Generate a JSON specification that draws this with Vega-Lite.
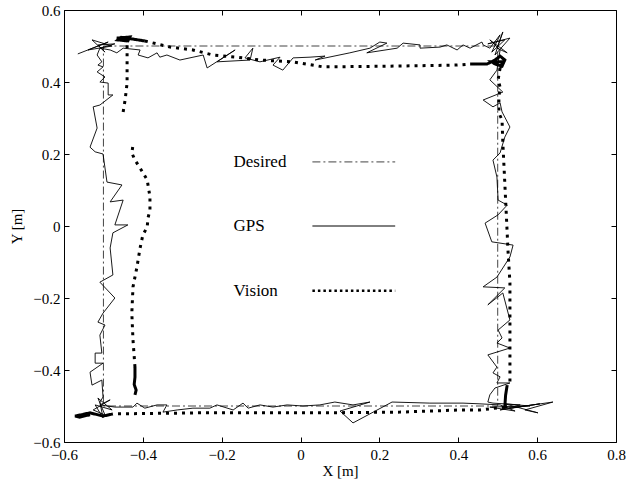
{
  "$schema": "https://vega.github.io/schema/vega-lite/v6.json",
  "width": 552,
  "height": 432,
  "autosize": {"type": "none"},
  "padding": {"left": 64, "top": 10, "right": 10, "bottom": 39},
  "background": "white",
  "config": {
    "font": "Liberation Serif",
    "view": {"stroke": "black", "strokeWidth": 1},
    "axis": {"grid": false, "domain": false, "tickColor": "black", "tickSize": -5, "labelColor": "black", "labelFont": "Liberation Serif", "labelFontSize": 15, "titleFont": "Liberation Serif", "titleFontSize": 15, "titleFontWeight": "normal", "titleColor": "black", "labelFlush": false, "labelOverlap": false}
  },
  "datasets": {
    "desired": [
      {"i": 1, "x": -0.5, "y": 0.5}, {"i": 2, "x": 0.5, "y": 0.5}, {"i": 3, "x": 0.5, "y": -0.5}, {"i": 4, "x": -0.5, "y": -0.5}, {"i": 5, "x": -0.5, "y": 0.5}
    ],
    "gps": [
      {"i":1,"x":-0.565,"y":0.478},{"i":2,"x":-0.488,"y":0.511},{"i":3,"x":-0.539,"y":0.489},{"i":4,"x":-0.478,"y":0.5},{"i":5,"x":-0.529,"y":0.517},{"i":6,"x":-0.496,"y":0.483},{"i":7,"x":-0.514,"y":0.503},{"i":8,"x":-0.471,"y":0.506},{"i":9,"x":-0.509,"y":0.494},{"i":10,"x":-0.483,"y":0.489},
      {"i":11,"x":-0.466,"y":0.481},{"i":12,"x":-0.45,"y":0.494},{"i":13,"x":-0.407,"y":0.489},{"i":14,"x":-0.412,"y":0.475},{"i":15,"x":-0.387,"y":0.467},{"i":16,"x":-0.364,"y":0.481},{"i":17,"x":-0.357,"y":0.469},{"i":18,"x":-0.339,"y":0.475},{"i":19,"x":-0.306,"y":0.461},{"i":20,"x":-0.247,"y":0.475},
      {"i":21,"x":-0.237,"y":0.439},{"i":22,"x":-0.166,"y":0.489},{"i":23,"x":-0.212,"y":0.456},{"i":24,"x":-0.128,"y":0.461},{"i":25,"x":-0.121,"y":0.494},{"i":26,"x":-0.141,"y":0.467},{"i":27,"x":-0.103,"y":0.456},{"i":28,"x":-0.052,"y":0.469},{"i":29,"x":-0.07,"y":0.447},{"i":30,"x":-0.045,"y":0.433},
      {"i":31,"x":-0.019,"y":0.467},{"i":32,"x":0.024,"y":0.469},{"i":33,"x":0.062,"y":0.472},{"i":34,"x":0.037,"y":0.461},{"i":35,"x":0.125,"y":0.481},{"i":36,"x":0.176,"y":0.494},{"i":37,"x":0.201,"y":0.511},{"i":38,"x":0.219,"y":0.508},{"i":39,"x":0.168,"y":0.481},{"i":40,"x":0.245,"y":0.494},
      {"i":41,"x":0.26,"y":0.508},{"i":42,"x":0.303,"y":0.503},{"i":43,"x":0.303,"y":0.494},{"i":44,"x":0.354,"y":0.497},{"i":45,"x":0.371,"y":0.503},{"i":46,"x":0.397,"y":0.489},{"i":47,"x":0.412,"y":0.503},{"i":48,"x":0.43,"y":0.494},{"i":49,"x":0.46,"y":0.511},{"i":50,"x":0.463,"y":0.503},
      {"i":51,"x":0.48,"y":0.494},{"i":52,"x":0.506,"y":0.531},{"i":53,"x":0.485,"y":0.483},{"i":54,"x":0.518,"y":0.517},{"i":55,"x":0.475,"y":0.506},{"i":56,"x":0.531,"y":0.522},{"i":57,"x":0.493,"y":0.475},{"i":58,"x":0.513,"y":0.539},{"i":59,"x":0.498,"y":0.494},{"i":60,"x":0.524,"y":0.481},
      {"i":61,"x":0.48,"y":0.517},{"i":62,"x":0.506,"y":0.489},{"i":63,"x":0.498,"y":0.433},{"i":64,"x":0.48,"y":0.406},{"i":65,"x":0.513,"y":0.372},{"i":66,"x":0.463,"y":0.35},{"i":67,"x":0.488,"y":0.331},{"i":68,"x":0.506,"y":0.342},{"i":69,"x":0.511,"y":0.317},{"i":70,"x":0.531,"y":0.275},
      {"i":71,"x":0.518,"y":0.247},{"i":72,"x":0.506,"y":0.203},{"i":73,"x":0.488,"y":0.183},{"i":74,"x":0.498,"y":0.136},{"i":75,"x":0.501,"y":0.072},{"i":76,"x":0.524,"y":0.058},{"i":77,"x":0.501,"y":0.031},{"i":78,"x":0.468,"y":0.008},{"i":79,"x":0.485,"y":-0.044},{"i":80,"x":0.539,"y":-0.053},
      {"i":81,"x":0.531,"y":-0.086},{"i":82,"x":0.498,"y":-0.142},{"i":83,"x":0.463,"y":-0.169},{"i":84,"x":0.518,"y":-0.172},{"i":85,"x":0.475,"y":-0.219},{"i":86,"x":0.513,"y":-0.186},{"i":87,"x":0.531,"y":-0.261},{"i":88,"x":0.501,"y":-0.289},{"i":89,"x":0.511,"y":-0.311},{"i":90,"x":0.498,"y":-0.325},
      {"i":91,"x":0.531,"y":-0.339},{"i":92,"x":0.475,"y":-0.358},{"i":93,"x":0.498,"y":-0.392},{"i":94,"x":0.488,"y":-0.408},{"i":95,"x":0.506,"y":-0.419},{"i":96,"x":0.498,"y":-0.436},{"i":97,"x":0.531,"y":-0.436},{"i":98,"x":0.493,"y":-0.45},{"i":99,"x":0.48,"y":-0.469},{"i":100,"x":0.475,"y":-0.489},
      {"i":101,"x":0.488,"y":-0.492},{"i":102,"x":0.557,"y":-0.497},{"i":103,"x":0.506,"y":-0.511},{"i":104,"x":0.607,"y":-0.494},{"i":105,"x":0.531,"y":-0.506},{"i":106,"x":0.64,"y":-0.489},{"i":107,"x":0.569,"y":-0.511},{"i":108,"x":0.602,"y":-0.519},{"i":109,"x":0.518,"y":-0.494},{"i":110,"x":0.582,"y":-0.5},
      {"i":111,"x":0.48,"y":-0.503},{"i":112,"x":0.544,"y":-0.514},{"i":113,"x":0.506,"y":-0.497},{"i":114,"x":0.455,"y":-0.494},{"i":115,"x":0.412,"y":-0.492},{"i":116,"x":0.328,"y":-0.492},{"i":117,"x":0.232,"y":-0.489},{"i":118,"x":0.133,"y":-0.547},{"i":119,"x":0.1,"y":-0.514},{"i":120,"x":0.176,"y":-0.489},
      {"i":121,"x":0.133,"y":-0.497},{"i":122,"x":0.087,"y":-0.489},{"i":123,"x":0.049,"y":-0.497},{"i":124,"x":0.006,"y":-0.5},{"i":125,"x":-0.034,"y":-0.497},{"i":126,"x":-0.07,"y":-0.503},{"i":127,"x":-0.103,"y":-0.497},{"i":128,"x":-0.133,"y":-0.506},{"i":129,"x":-0.146,"y":-0.492},{"i":130,"x":-0.171,"y":-0.511},
      {"i":131,"x":-0.212,"y":-0.497},{"i":132,"x":-0.23,"y":-0.506},{"i":133,"x":-0.273,"y":-0.506},{"i":134,"x":-0.313,"y":-0.511},{"i":135,"x":-0.349,"y":-0.517},{"i":136,"x":-0.339,"y":-0.497},{"i":137,"x":-0.364,"y":-0.497},{"i":138,"x":-0.395,"y":-0.506},{"i":139,"x":-0.415,"y":-0.492},{"i":140,"x":-0.425,"y":-0.503},
      {"i":141,"x":-0.471,"y":-0.503},{"i":142,"x":-0.509,"y":-0.497},{"i":143,"x":-0.483,"y":-0.483},{"i":144,"x":-0.526,"y":-0.511},{"i":145,"x":-0.496,"y":-0.525},{"i":146,"x":-0.514,"y":-0.478},{"i":147,"x":-0.478,"y":-0.511},{"i":148,"x":-0.521,"y":-0.497},{"i":149,"x":-0.501,"y":-0.533},{"i":150,"x":-0.509,"y":-0.489},
      {"i":151,"x":-0.501,"y":-0.475},{"i":152,"x":-0.504,"y":-0.428},{"i":153,"x":-0.529,"y":-0.442},{"i":154,"x":-0.534,"y":-0.406},{"i":155,"x":-0.501,"y":-0.381},{"i":156,"x":-0.521,"y":-0.381},{"i":157,"x":-0.521,"y":-0.353},{"i":158,"x":-0.504,"y":-0.353},{"i":159,"x":-0.509,"y":-0.303},{"i":160,"x":-0.496,"y":-0.275},
      {"i":161,"x":-0.514,"y":-0.267},{"i":162,"x":-0.501,"y":-0.242},{"i":163,"x":-0.471,"y":-0.2},{"i":164,"x":-0.509,"y":-0.156},{"i":165,"x":-0.476,"y":-0.136},{"i":166,"x":-0.483,"y":-0.061},{"i":167,"x":-0.476,"y":-0.019},{"i":168,"x":-0.438,"y":0.003},{"i":169,"x":-0.471,"y":0.003},{"i":170,"x":-0.45,"y":0.072},
      {"i":171,"x":-0.483,"y":0.067},{"i":172,"x":-0.453,"y":0.114},{"i":173,"x":-0.491,"y":0.122},{"i":174,"x":-0.501,"y":0.2},{"i":175,"x":-0.521,"y":0.206},{"i":176,"x":-0.534,"y":0.219},{"i":177,"x":-0.516,"y":0.272},{"i":178,"x":-0.526,"y":0.331},{"i":179,"x":-0.509,"y":0.336},{"i":180,"x":-0.476,"y":0.364},
      {"i":181,"x":-0.488,"y":0.364},{"i":182,"x":-0.488,"y":0.397},{"i":183,"x":-0.509,"y":0.4},{"i":184,"x":-0.496,"y":0.414},{"i":185,"x":-0.516,"y":0.428},{"i":186,"x":-0.501,"y":0.442},{"i":187,"x":-0.514,"y":0.447},{"i":188,"x":-0.504,"y":0.456},{"i":189,"x":-0.516,"y":0.475},{"i":190,"x":-0.509,"y":0.494}
    ],
    "vision": [
      {"s":"A1","st":"solid","i":1,"x":-0.42,"y":-0.469},{"s":"A1","st":"solid","i":2,"x":-0.417,"y":-0.456},{"s":"A1","st":"solid","i":3,"x":-0.422,"y":-0.44},{"s":"A1","st":"solid","i":4,"x":-0.42,"y":-0.42},{"s":"A1","st":"solid","i":5,"x":-0.42,"y":-0.392},
      {"s":"A2","st":"dot","i":6,"x":-0.42,"y":-0.392},{"s":"A2","st":"dot","i":7,"x":-0.425,"y":-0.317},{"s":"A2","st":"dot","i":8,"x":-0.428,"y":-0.242},{"s":"A2","st":"dot","i":9,"x":-0.425,"y":-0.169},{"s":"A2","st":"dot","i":10,"x":-0.415,"y":-0.114},{"s":"A2","st":"dot","i":11,"x":-0.407,"y":-0.061},{"s":"A2","st":"dot","i":12,"x":-0.4,"y":-0.025},{"s":"A2","st":"dot","i":13,"x":-0.389,"y":-0.003},{"s":"A2","st":"dot","i":14,"x":-0.387,"y":0.022},{"s":"A2","st":"dot","i":15,"x":-0.382,"y":0.044},{"s":"A2","st":"dot","i":16,"x":-0.382,"y":0.081},{"s":"A2","st":"dot","i":17,"x":-0.389,"y":0.128},{"s":"A2","st":"dot","i":18,"x":-0.407,"y":0.161},{"s":"A2","st":"dot","i":19,"x":-0.42,"y":0.183},{"s":"A2","st":"dot","i":20,"x":-0.428,"y":0.203},{"s":"A2","st":"dot","i":21,"x":-0.425,"y":0.225},
      {"s":"B1","st":"dot","i":22,"x":-0.45,"y":0.317},{"s":"B1","st":"dot","i":23,"x":-0.445,"y":0.35},{"s":"B1","st":"dot","i":24,"x":-0.44,"y":0.397},{"s":"B1","st":"dot","i":25,"x":-0.44,"y":0.442},{"s":"B1","st":"dot","i":26,"x":-0.44,"y":0.489},{"s":"B1","st":"dot","i":27,"x":-0.44,"y":0.514},
      {"s":"B2","st":"solid","i":28,"x":-0.44,"y":0.514},{"s":"B2","st":"solid","i":29,"x":-0.466,"y":0.522},{"s":"B2","st":"solid","i":30,"x":-0.433,"y":0.525},{"s":"B2","st":"solid","i":31,"x":-0.438,"y":0.514},{"s":"B2","st":"solid","i":32,"x":-0.463,"y":0.517},{"s":"B2","st":"solid","i":33,"x":-0.455,"y":0.524},{"s":"B2","st":"solid","i":34,"x":-0.43,"y":0.52},{"s":"B2","st":"solid","i":35,"x":-0.395,"y":0.514},
      {"s":"B3","st":"dot","i":36,"x":-0.395,"y":0.514},{"s":"B3","st":"dot","i":37,"x":-0.331,"y":0.497},{"s":"B3","st":"dot","i":38,"x":-0.273,"y":0.489},{"s":"B3","st":"dot","i":39,"x":-0.222,"y":0.475},{"s":"B3","st":"dot","i":40,"x":-0.161,"y":0.469},{"s":"B3","st":"dot","i":41,"x":-0.103,"y":0.461},{"s":"B3","st":"dot","i":42,"x":-0.019,"y":0.456},{"s":"B3","st":"dot","i":43,"x":0.057,"y":0.442},{"s":"B3","st":"dot","i":44,"x":0.227,"y":0.444},{"s":"B3","st":"dot","i":45,"x":0.397,"y":0.447},{"s":"B3","st":"dot","i":46,"x":0.43,"y":0.45},
      {"s":"B4","st":"solid","i":47,"x":0.43,"y":0.45},{"s":"B4","st":"solid","i":48,"x":0.473,"y":0.45},{"s":"B4","st":"solid","i":49,"x":0.493,"y":0.461},{"s":"B4","st":"solid","i":50,"x":0.506,"y":0.472},{"s":"B4","st":"solid","i":51,"x":0.518,"y":0.461},{"s":"B4","st":"solid","i":52,"x":0.511,"y":0.444},{"s":"B4","st":"solid","i":53,"x":0.493,"y":0.45},{"s":"B4","st":"solid","i":54,"x":0.485,"y":0.456},{"s":"B4","st":"solid","i":55,"x":0.513,"y":0.456},{"s":"B4","st":"solid","i":56,"x":0.506,"y":0.439},
      {"s":"B5","st":"dot","i":57,"x":0.506,"y":0.439},{"s":"B5","st":"dot","i":58,"x":0.501,"y":0.406},{"s":"B5","st":"dot","i":59,"x":0.506,"y":0.386},{"s":"B5","st":"dot","i":60,"x":0.503,"y":0.358},{"s":"B5","st":"dot","i":61,"x":0.503,"y":0.314},{"s":"B5","st":"dot","i":62,"x":0.511,"y":0.294},{"s":"B5","st":"dot","i":63,"x":0.513,"y":0.231},{"s":"B5","st":"dot","i":64,"x":0.518,"y":0.119},{"s":"B5","st":"dot","i":65,"x":0.524,"y":-0.019},{"s":"B5","st":"dot","i":66,"x":0.526,"y":-0.067},{"s":"B5","st":"dot","i":67,"x":0.531,"y":-0.158},{"s":"B5","st":"dot","i":68,"x":0.531,"y":-0.253},{"s":"B5","st":"dot","i":69,"x":0.531,"y":-0.344},{"s":"B5","st":"dot","i":70,"x":0.531,"y":-0.436},
      {"s":"B6","st":"solid","i":71,"x":0.524,"y":-0.442},{"s":"B6","st":"solid","i":72,"x":0.52,"y":-0.47},{"s":"B6","st":"solid","i":73,"x":0.518,"y":-0.503},{"s":"B6","st":"solid","i":74,"x":0.524,"y":-0.5},
      {"s":"B7","st":"dot","i":75,"x":0.518,"y":-0.503},{"s":"B7","st":"dot","i":76,"x":0.455,"y":-0.511},{"s":"B7","st":"dot","i":77,"x":0.404,"y":-0.511},{"s":"B7","st":"dot","i":78,"x":0.252,"y":-0.517},{"s":"B7","st":"dot","i":79,"x":0.049,"y":-0.519},{"s":"B7","st":"dot","i":80,"x":-0.255,"y":-0.519},{"s":"B7","st":"dot","i":81,"x":-0.476,"y":-0.522},
      {"s":"B8","st":"solid","i":82,"x":-0.476,"y":-0.522},{"s":"B8","st":"solid","i":83,"x":-0.501,"y":-0.528},{"s":"B8","st":"solid","i":84,"x":-0.534,"y":-0.519},{"s":"B8","st":"solid","i":85,"x":-0.559,"y":-0.525},{"s":"B8","st":"solid","i":86,"x":-0.572,"y":-0.528},{"s":"B8","st":"solid","i":87,"x":-0.56,"y":-0.531},{"s":"B8","st":"solid","i":88,"x":-0.534,"y":-0.524}
    ],
    "legend": [
      {"label": "Desired", "x": -0.17, "y": 0.178, "x1": 0.03, "x2": 0.24},
      {"label": "GPS", "x": -0.17, "y": 0.0, "x1": 0.03, "x2": 0.24},
      {"label": "Vision", "x": -0.17, "y": -0.18, "x1": 0.03, "x2": 0.24}
    ]
  },
  "resolve": {"axis": {"x": "independent", "y": "independent"}},
  "layer": [
    {
      "data": {"name": "desired"},
      "mark": {"type": "line", "color": "#444444", "strokeWidth": 1, "strokeDash": [8, 3, 2, 3]},
      "encoding": {
        "x": {"field": "x", "type": "quantitative", "scale": {"domain": [-0.6, 0.8], "nice": false, "zero": false},
              "axis": {"orient": "bottom", "values": [-0.6, -0.4, -0.2, 0, 0.2, 0.4, 0.6, 0.8], "format": "~g", "title": "X [m]", "labelPadding": 10, "titlePadding": 1}},
        "y": {"field": "y", "type": "quantitative", "scale": {"domain": [-0.6, 0.6], "nice": false, "zero": false},
              "axis": {"orient": "left", "values": [-0.6, -0.4, -0.2, 0, 0.2, 0.4, 0.6], "format": "~g", "title": "Y [m]", "labelPadding": 9, "titlePadding": 8}},
        "order": {"field": "i", "type": "quantitative"}
      }
    },
    {
      "data": {"name": "gps"},
      "mark": {"type": "line", "color": "black", "strokeWidth": 0.9},
      "encoding": {
        "x": {"field": "x", "type": "quantitative", "axis": {"orient": "top", "values": [-0.6, -0.4, -0.2, 0, 0.2, 0.4, 0.6, 0.8], "labels": false, "title": null}},
        "y": {"field": "y", "type": "quantitative", "axis": {"orient": "right", "values": [-0.6, -0.4, -0.2, 0, 0.2, 0.4, 0.6], "labels": false, "title": null}},
        "order": {"field": "i", "type": "quantitative"}
      }
    },
    {
      "data": {"name": "vision"},
      "mark": {"type": "line", "color": "black", "strokeWidth": 3, "strokeCap": "butt"},
      "encoding": {
        "x": {"field": "x", "type": "quantitative", "axis": null},
        "y": {"field": "y", "type": "quantitative", "axis": null},
        "detail": {"field": "s", "type": "nominal"},
        "strokeDash": {"field": "st", "type": "nominal", "scale": {"domain": ["dot", "solid"], "range": [[3, 5], [1, 0]]}, "legend": null},
        "order": {"field": "i", "type": "quantitative"}
      }
    },
    {
      "data": {"name": "legend"},
      "mark": {"type": "text", "align": "left", "baseline": "middle", "fontSize": 17, "font": "Liberation Serif", "color": "black"},
      "encoding": {
        "x": {"field": "x", "type": "quantitative", "axis": null},
        "y": {"field": "y", "type": "quantitative", "axis": null},
        "text": {"field": "label", "type": "nominal"}
      }
    },
    {
      "data": {"name": "legend"},
      "transform": [{"filter": "datum.label === 'Desired'"}],
      "mark": {"type": "rule", "color": "#444444", "strokeWidth": 1, "strokeDash": [8, 3, 2, 3]},
      "encoding": {
        "x": {"field": "x1", "type": "quantitative", "axis": null},
        "x2": {"field": "x2"},
        "y": {"field": "y", "type": "quantitative", "axis": null}
      }
    },
    {
      "data": {"name": "legend"},
      "transform": [{"filter": "datum.label === 'GPS'"}],
      "mark": {"type": "rule", "color": "black", "strokeWidth": 1},
      "encoding": {
        "x": {"field": "x1", "type": "quantitative", "axis": null},
        "x2": {"field": "x2"},
        "y": {"field": "y", "type": "quantitative", "axis": null}
      }
    },
    {
      "data": {"name": "legend"},
      "transform": [{"filter": "datum.label === 'Vision'"}],
      "mark": {"type": "rule", "color": "black", "strokeWidth": 2.5, "strokeDash": [2.5, 3], "strokeCap": "butt"},
      "encoding": {
        "x": {"field": "x1", "type": "quantitative", "axis": null},
        "x2": {"field": "x2"},
        "y": {"field": "y", "type": "quantitative", "axis": null}
      }
    }
  ]
}
